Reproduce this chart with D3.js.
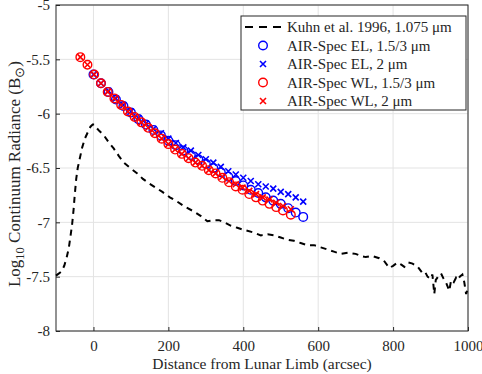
<!DOCTYPE html>
<html>
<head>
  <meta charset="utf-8">
  <script src="https://d3js.org/d3.v7.min.js"></script>
  <style>
    body { margin: 0; background: #fff; }
    svg text { font-family: "Liberation Serif", "Times New Roman", serif; fill: #262626; }
  </style>
</head>
<body>
<div id="chart"></div>
<script>
  // Kuhn et al. 1996 profile
  var kuhnX = [-100,-92,-85,-78,-72,-66,-61,-57,-53,-50,-46,-42,-37,-30,-23,-15,-8,-2,2,8,16,28,40,54,68,81,98,117,132,148,166,184,204,224,246,268,286,304,320,335,350,366,384,402,424,447,465,482,500,518,535,553,571,589,607,625,642,660,680,700,714,727,745,763,777,790,800,812,822,830,841,852,866,879,886,892,900,905,910,914,920,928,935,942,950,955,962,968,972,978,985,990,995,1000];
  var kuhnY = [-7.49,-7.47,-7.45,-7.40,-7.33,-7.24,-7.12,-7.02,-6.88,-6.75,-6.60,-6.50,-6.42,-6.31,-6.23,-6.17,-6.12,-6.10,-6.10,-6.13,-6.16,-6.20,-6.26,-6.32,-6.39,-6.45,-6.50,-6.55,-6.60,-6.64,-6.68,-6.72,-6.77,-6.81,-6.86,-6.90,-6.94,-6.99,-6.98,-6.98,-7.00,-7.03,-7.05,-7.07,-7.09,-7.12,-7.11,-7.12,-7.14,-7.16,-7.17,-7.19,-7.21,-7.21,-7.23,-7.25,-7.27,-7.29,-7.28,-7.29,-7.31,-7.32,-7.31,-7.33,-7.36,-7.42,-7.40,-7.37,-7.39,-7.41,-7.37,-7.38,-7.41,-7.47,-7.46,-7.50,-7.52,-7.48,-7.66,-7.53,-7.50,-7.47,-7.52,-7.56,-7.63,-7.53,-7.55,-7.51,-7.53,-7.50,-7.48,-7.55,-7.66,-7.60];

  // AIR-Spec EL
  var elX = [0,20,40,60,80,100,120,140,160,180,200,220,240,260,280,300,320,340,360,380,400,420,440,460,480,500,520,540,560];
  var el15 = [-5.64,-5.72,-5.80,-5.87,-5.93,-5.99,-6.05,-6.10,-6.15,-6.20,-6.25,-6.29,-6.34,-6.38,-6.42,-6.46,-6.50,-6.54,-6.58,-6.62,-6.66,-6.70,-6.73,-6.77,-6.80,-6.83,-6.87,-6.91,-6.95];
  var el2 = [-5.64,-5.72,-5.79,-5.86,-5.92,-5.98,-6.04,-6.09,-6.14,-6.18,-6.23,-6.27,-6.31,-6.34,-6.38,-6.42,-6.45,-6.49,-6.53,-6.56,-6.59,-6.62,-6.65,-6.67,-6.69,-6.72,-6.74,-6.77,-6.81];

  // AIR-Spec WL
  var wlX = [-35,-16,2,20,38,56,74,92,110,128,146,164,182,200,218,236,254,272,290,308,326,344,362,380,398,416,434,452,470,488,506,527];
  var wl15 = [-5.48,-5.55,-5.64,-5.72,-5.80,-5.86,-5.92,-5.98,-6.03,-6.08,-6.13,-6.18,-6.23,-6.28,-6.33,-6.37,-6.41,-6.45,-6.48,-6.52,-6.55,-6.59,-6.63,-6.67,-6.70,-6.74,-6.77,-6.80,-6.83,-6.86,-6.89,-6.93];
  var wl2 = [-5.48,-5.55,-5.64,-5.72,-5.80,-5.86,-5.92,-5.98,-6.03,-6.08,-6.13,-6.18,-6.23,-6.28,-6.33,-6.37,-6.41,-6.45,-6.48,-6.52,-6.55,-6.58,-6.62,-6.65,-6.68,-6.71,-6.74,-6.77,-6.79,-6.82,-6.85,-6.88];

  var xTicks = [0, 200, 400, 600, 800, 1000];
  var yTicks = [-8, -7.5, -7, -6.5, -6, -5.5, -5];

  var width = 482, height = 374;
  var margin = { left: 56, right: 14, top: 5, bottom: 43 };

  var svg = d3.select('#chart').append('svg')
    .attr('width', width)
    .attr('height', height);

  var x = d3.scaleLinear().domain([-100, 1000]).range([margin.left, width - margin.right]);
  var y = d3.scaleLinear().domain([-8, -5]).range([height - margin.bottom, margin.top]);

  // grid
  svg.append('g').selectAll('line').data(xTicks).enter().append('line')
    .attr('x1', function(d) { return x(d); }).attr('x2', function(d) { return x(d); })
    .attr('y1', y(-8)).attr('y2', y(-5))
    .attr('stroke', '#e3e3e3').attr('stroke-width', 1);
  svg.append('g').selectAll('line').data(yTicks).enter().append('line')
    .attr('y1', function(d) { return y(d); }).attr('y2', function(d) { return y(d); })
    .attr('x1', x(-100)).attr('x2', x(1000))
    .attr('stroke', '#e3e3e3').attr('stroke-width', 1);

  // axes (ticks inward)
  var fmt = function(d) { return String(d); };
  svg.append('g')
    .attr('transform', 'translate(0,' + y(-8) + ')')
    .call(d3.axisBottom(x).tickValues(xTicks).tickSize(-4).tickPadding(9).tickFormat(fmt))
    .call(function(g) {
      g.select('.domain').remove();
      g.selectAll('line').attr('stroke', '#262626');
      g.selectAll('text').attr('font-size', 15).attr('font-family', 'Liberation Serif');
    });
  svg.append('g')
    .attr('transform', 'translate(' + x(-100) + ',0)')
    .call(d3.axisLeft(y).tickValues(yTicks).tickSize(-4).tickPadding(6).tickFormat(fmt))
    .call(function(g) {
      g.select('.domain').remove();
      g.selectAll('line').attr('stroke', '#262626');
      g.selectAll('text').attr('font-size', 15).attr('font-family', 'Liberation Serif');
    });

  // box
  svg.append('rect')
    .attr('x', x(-100)).attr('y', y(-5))
    .attr('width', x(1000) - x(-100)).attr('height', y(-8) - y(-5))
    .attr('fill', 'none').attr('stroke', '#262626').attr('stroke-width', 1);

  // Kuhn dashed line
  var kuhn = kuhnX.map(function(d, i) { return [d, kuhnY[i]]; });
  svg.append('path')
    .datum(kuhn)
    .attr('d', d3.line().x(function(d) { return x(d[0]); }).y(function(d) { return y(d[1]); }))
    .attr('fill', 'none')
    .attr('stroke', '#000')
    .attr('stroke-width', 2)
    .attr('stroke-dasharray', '6,5');

  function circles(xs, ys, color) {
    svg.append('g').selectAll('circle').data(xs).enter().append('circle')
      .attr('cx', function(d) { return x(d); })
      .attr('cy', function(d, i) { return y(ys[i]); })
      .attr('r', 4.3)
      .attr('fill', 'none')
      .attr('stroke', color)
      .attr('stroke-width', 1.4);
  }
  function crosses(xs, ys, color) {
    var s = 3;
    svg.append('g').selectAll('path').data(xs).enter().append('path')
      .attr('d', function(d, i) {
        var cx = x(d), cy = y(ys[i]);
        return 'M' + (cx - s) + ',' + (cy - s) + 'L' + (cx + s) + ',' + (cy + s) +
          'M' + (cx - s) + ',' + (cy + s) + 'L' + (cx + s) + ',' + (cy - s);
      })
      .attr('stroke', color)
      .attr('stroke-width', 1.6);
  }

  circles(elX, el15, '#0000ff');
  crosses(elX, el2, '#0000ff');
  circles(wlX, wl15, '#ff0000');
  crosses(wlX, wl2, '#ff0000');

  // legend
  var lg = svg.append('g');
  lg.append('rect')
    .attr('x', 241).attr('y', 16).attr('width', 225).attr('height', 94)
    .attr('fill', '#fff').attr('stroke', '#262626').attr('stroke-width', 1);
  var labels = ['Kuhn et al. 1996, 1.075 \u03bcm', 'AIR-Spec EL, 1.5/3 \u03bcm', 'AIR-Spec EL, 2 \u03bcm',
    'AIR-Spec WL, 1.5/3 \u03bcm', 'AIR-Spec WL, 2 \u03bcm'];
  labels.forEach(function(t, i) {
    var ly = 27 + i * 18.5;
    if (i === 0) {
      lg.append('line').attr('x1', 245).attr('x2', 283).attr('y1', ly).attr('y2', ly)
        .attr('stroke', '#000').attr('stroke-width', 2).attr('stroke-dasharray', '8,6');
    } else {
      var col = i < 3 ? '#0000ff' : '#ff0000';
      if (i % 2 === 1) {
        lg.append('circle').attr('cx', 263).attr('cy', ly).attr('r', 4.3)
          .attr('fill', 'none').attr('stroke', col).attr('stroke-width', 1.4);
      } else {
        lg.append('path')
          .attr('d', 'M260,' + (ly - 3) + 'L266,' + (ly + 3) + 'M260,' + (ly + 3) + 'L266,' + (ly - 3))
          .attr('stroke', col).attr('stroke-width', 1.6);
      }
    }
    lg.append('text').attr('x', 287).attr('y', ly + 5).attr('font-size', 15).text(t);
  });

  // axis labels
  svg.append('text')
    .attr('x', (x(-100) + x(1000)) / 2).attr('y', 369)
    .attr('text-anchor', 'middle').attr('font-size', 15.5)
    .text('Distance from Lunar Limb (arcsec)');

  var yl = svg.append('text')
    .attr('transform', 'translate(20,174) rotate(-90)')
    .attr('text-anchor', 'middle').attr('font-size', 17);
  yl.append('tspan').text('Log');
  yl.append('tspan').attr('font-size', 12.5).attr('dy', 4).text('10');
  yl.append('tspan').attr('dy', -4).text(' Continuum Radiance (B');
  yl.append('tspan').attr('font-size', 12.5).attr('dy', 4).text('\u2299');
  yl.append('tspan').attr('dy', -4).text(')');
</script>
</body>
</html>
